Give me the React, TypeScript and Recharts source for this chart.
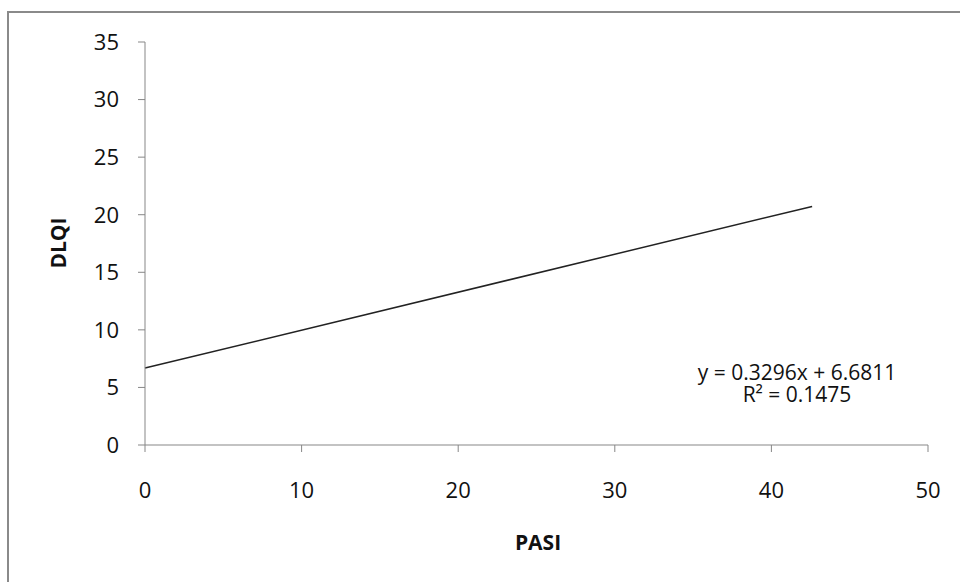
import React from 'react'
import { LineChart, Line, XAxis, YAxis } from 'recharts'

// PASI vs DLQI linear trend
const pasi = [0, 42.6]
const dlqi = [6.68, 20.72]
const xTicks = [0, 10, 20, 30, 40, 50]
const yTicks = [0, 5, 10, 15, 20, 25, 30, 35]
const equation = 'y = 0.3296x + 6.6811'
const rSquared = 'R\u00b2 = 0.1475'

const data = pasi.map((x, i) => ({ x, y: dlqi[i] }))

const font = "'Open Sans', sans-serif"
const axisColor = '#878787'

export default function App() {
    return <div style={{ position: 'absolute', left: 0, top: 0, width: 960, height: 582, background: '#fff', fontFamily: font }}>
        <div style={{ position: 'absolute', left: 7, top: 11, width: 953, height: 571, borderTop: '2px solid #8a8a8a', borderLeft: '2px solid #8a8a8a', boxSizing: 'border-box' }} />
        <LineChart width={960} height={582} data={data} margin={{ top: 42, right: 32, bottom: 97, left: 105 }}>
            <XAxis
                type="number"
                dataKey="x"
                domain={[0, 50]}
                ticks={xTicks}
                height={40}
                stroke={axisColor}
                tickSize={7}
                tickMargin={30}
                tick={{ fill: '#111', fontSize: 22, fontFamily: font }}
            />
            <YAxis
                type="number"
                domain={[0, 35]}
                ticks={yTicks}
                width={40}
                stroke={axisColor}
                tickSize={7}
                tickMargin={19}
                tick={{ fill: '#111', fontSize: 22, fontFamily: font }}
            />
            <Line type="linear" dataKey="y" stroke="#222" strokeWidth={1.5} dot={false} isAnimationActive={false} />
        </LineChart>
        <div style={{ position: 'absolute', left: 438, top: 526, width: 200, textAlign: 'center', fontWeight: 'bold', fontSize: 21, lineHeight: '32px', color: '#111' }}>PASI</div>
        <div style={{ position: 'absolute', left: 58, top: 243, transform: 'translate(-50%, -50%) rotate(-90deg)', fontWeight: 'bold', fontSize: 21, lineHeight: '32px', color: '#111', whiteSpace: 'nowrap' }}>DLQI</div>
        <div style={{ position: 'absolute', left: 647, top: 361, width: 300, textAlign: 'center', fontSize: 21, lineHeight: '22px', color: '#111', whiteSpace: 'pre-line' }}>
            {equation + '\n' + rSquared}
        </div>
    </div>
}
